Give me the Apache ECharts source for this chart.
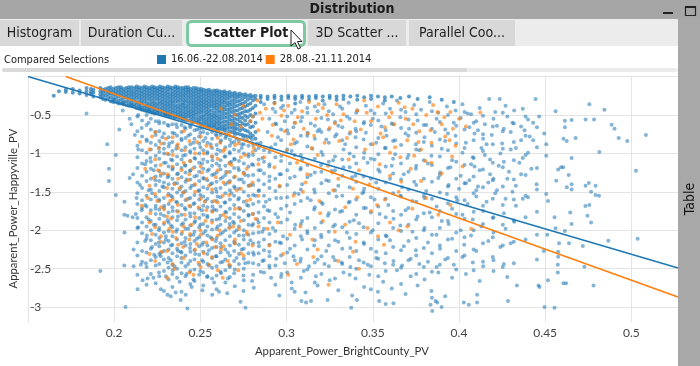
<!DOCTYPE html>
<html><head><meta charset="utf-8">
<script src="https://cdn.jsdelivr.net/npm/echarts@6/dist/echarts.min.js"></script>
<style>html,body{margin:0;padding:0;background:#fff}#c{width:700px;height:366px}</style>
</head><body><div id="c"></div>
<script>
const seriesNames = ['16.06.-22.08.2014', '28.08.-21.11.2014'];
const xAxisName = 'Apparent_Power_BrightCounty_PV';
const yAxisName = 'Apparent_Power_Happyville_PV';
const panelTitle = 'Distribution';
const sideTitle = 'Table';
const selLabel = 'Compared Selections';
const tabLabels = ['Histogram', 'Duration Cu...', 'Scatter Plot', '3D Scatter ...', 'Parallel Coo...'];
const xMin = 0.15, xMax = 0.527, xStep = 0.05, yMin = -3.2, yMax = 0;

// regression lines (end points)
const blueFit = [[0.15, 0.0], [0.527, -2.492]];
const orangeFit = [[0.172, 0.0], [0.527, -2.87]];

// dense upper wedge of blue points: [x, y1, y2, ...]
const blueWedgeCols = [
[0.165,-0.25],[0.168,-0.19],[0.172,-0.17,-0.2],[0.176,-0.16,-0.21],[0.18,-0.18,-0.22],
[0.184,-0.15,-0.19,-0.24],[0.188,-0.17,-0.21,-0.26],[0.192,-0.15,-0.19,-0.23,-0.27],
[0.195,-0.16,-0.2,-0.25,-0.3],[0.198,-0.14,-0.18,-0.22,-0.27,-0.32],[0.201,-0.15,-0.19,-0.23,-0.28,-0.33],
[0.204,-0.14,-0.17,-0.21,-0.25,-0.3,-0.35],[0.207,-0.15,-0.19,-0.23,-0.27,-0.32,-0.37],
[0.21,-0.14,-0.18,-0.22,-0.26,-0.3,-0.34,-0.38],[0.213,-0.13,-0.16,-0.2,-0.24,-0.28,-0.33,-0.37,-0.41],
[0.216,-0.15,-0.19,-0.23,-0.27,-0.31,-0.35,-0.4,-0.43],[0.219,-0.14,-0.17,-0.21,-0.25,-0.29,-0.34,-0.38,-0.42,-0.45],
[0.222,-0.13,-0.16,-0.2,-0.24,-0.28,-0.32,-0.36,-0.4,-0.44,-0.47],[0.225,-0.15,-0.18,-0.22,-0.26,-0.3,-0.35,-0.39,-0.43,-0.47],
[0.228,-0.14,-0.17,-0.21,-0.25,-0.29,-0.33,-0.37,-0.41,-0.45,-0.49],[0.231,-0.13,-0.16,-0.2,-0.24,-0.28,-0.32,-0.36,-0.4,-0.44,-0.48,-0.51],
[0.234,-0.15,-0.19,-0.23,-0.27,-0.31,-0.35,-0.39,-0.43,-0.47,-0.52],[0.237,-0.14,-0.17,-0.21,-0.25,-0.29,-0.33,-0.38,-0.42,-0.46,-0.5,-0.54],
[0.24,-0.15,-0.18,-0.22,-0.26,-0.3,-0.34,-0.37,-0.41,-0.45,-0.49,-0.53,-0.56],[0.243,-0.14,-0.17,-0.2,-0.24,-0.28,-0.32,-0.36,-0.4,-0.44,-0.48,-0.52,-0.57],
[0.246,-0.15,-0.19,-0.23,-0.27,-0.31,-0.35,-0.39,-0.43,-0.47,-0.51,-0.55,-0.59],[0.249,-0.16,-0.2,-0.24,-0.28,-0.32,-0.36,-0.4,-0.44,-0.48,-0.53,-0.57,-0.6],
[0.252,-0.17,-0.21,-0.25,-0.29,-0.33,-0.37,-0.41,-0.45,-0.5,-0.54,-0.58,-0.62],[0.255,-0.17,-0.2,-0.24,-0.28,-0.32,-0.36,-0.4,-0.44,-0.48,-0.52,-0.56,-0.6,-0.64],
[0.258,-0.18,-0.22,-0.26,-0.3,-0.34,-0.38,-0.42,-0.47,-0.51,-0.55,-0.59,-0.63,-0.66],[0.261,-0.19,-0.23,-0.27,-0.31,-0.35,-0.39,-0.43,-0.47,-0.52,-0.56,-0.6,-0.64,-0.68],
[0.264,-0.19,-0.22,-0.26,-0.3,-0.34,-0.39,-0.43,-0.48,-0.53,-0.58,-0.63,-0.67,-0.7],[0.267,-0.2,-0.24,-0.28,-0.33,-0.37,-0.42,-0.46,-0.51,-0.56,-0.61,-0.66,-0.71],
[0.27,-0.21,-0.25,-0.29,-0.34,-0.39,-0.44,-0.49,-0.55,-0.6,-0.65,-0.69,-0.73],[0.273,-0.22,-0.26,-0.31,-0.36,-0.42,-0.48,-0.53,-0.58,-0.64,-0.7,-0.75],
[0.276,-0.23,-0.27,-0.33,-0.39,-0.45,-0.51,-0.57,-0.63,-0.7,-0.77],[0.279,-0.24,-0.28,-0.35,-0.43,-0.5,-0.58,-0.66,-0.74,-0.79],
[0.282,-0.25,-0.29,-0.38,-0.48,-0.6,-0.72,-0.81],
// top band continuing right
[0.285,-0.25,-0.28,-0.33],[0.289,-0.26,-0.29],[0.293,-0.25,-0.28,-0.34],[0.297,-0.26,-0.3],[0.301,-0.25,-0.28],
[0.305,-0.26,-0.29,-0.35],[0.309,-0.25,-0.28],[0.313,-0.26,-0.3],[0.317,-0.25,-0.28],[0.321,-0.26,-0.31],
[0.325,-0.25,-0.28],[0.329,-0.26,-0.3],[0.333,-0.25,-0.29],[0.337,-0.26],[0.341,-0.25,-0.3],[0.345,-0.27],
[0.349,-0.25,-0.29],[0.353,-0.26],[0.357,-0.27,-0.31],[0.361,-0.26],[0.366,-0.28],[0.371,-0.26],[0.376,-0.29],
[0.383,-0.27],[0.39,-0.3],[0.397,-0.33],
// second pass through the wedge
[0.1865,-0.16,-0.2,-0.23],[0.1935,-0.17,-0.21,-0.25,-0.29],[0.1965,-0.15,-0.19,-0.23,-0.28],
[0.1995,-0.16,-0.2,-0.24,-0.29,-0.33],[0.2025,-0.14,-0.18,-0.22,-0.26,-0.31,-0.35],[0.2055,-0.16,-0.2,-0.24,-0.28,-0.33,-0.36],
[0.2085,-0.14,-0.17,-0.21,-0.25,-0.29,-0.34,-0.38],[0.2115,-0.15,-0.19,-0.23,-0.27,-0.31,-0.36,-0.39],
[0.2145,-0.14,-0.17,-0.21,-0.25,-0.29,-0.34,-0.38,-0.42],[0.2175,-0.13,-0.16,-0.2,-0.24,-0.28,-0.32,-0.37,-0.41,-0.44],
[0.2205,-0.15,-0.18,-0.22,-0.26,-0.3,-0.35,-0.39,-0.43,-0.46],[0.2235,-0.14,-0.17,-0.21,-0.25,-0.29,-0.34,-0.38,-0.42,-0.45,-0.48],
[0.2265,-0.13,-0.16,-0.2,-0.24,-0.28,-0.32,-0.36,-0.41,-0.45,-0.49],[0.2295,-0.15,-0.19,-0.23,-0.27,-0.31,-0.35,-0.39,-0.43,-0.47,-0.5],
[0.2325,-0.14,-0.17,-0.22,-0.26,-0.3,-0.34,-0.38,-0.42,-0.46,-0.5,-0.52],[0.2355,-0.13,-0.16,-0.2,-0.24,-0.28,-0.32,-0.37,-0.41,-0.45,-0.49,-0.53],
[0.2385,-0.15,-0.19,-0.23,-0.27,-0.31,-0.36,-0.4,-0.44,-0.48,-0.52,-0.55],[0.2415,-0.14,-0.17,-0.21,-0.25,-0.29,-0.33,-0.38,-0.42,-0.46,-0.5,-0.54,-0.57],
[0.2445,-0.16,-0.2,-0.24,-0.28,-0.32,-0.36,-0.41,-0.45,-0.49,-0.53,-0.57],[0.2475,-0.15,-0.18,-0.22,-0.26,-0.3,-0.34,-0.38,-0.42,-0.46,-0.5,-0.55,-0.59],
[0.2505,-0.16,-0.19,-0.23,-0.27,-0.31,-0.35,-0.39,-0.43,-0.47,-0.52,-0.56,-0.61],[0.2535,-0.18,-0.22,-0.26,-0.3,-0.34,-0.38,-0.42,-0.46,-0.5,-0.55,-0.59,-0.63],
[0.2565,-0.19,-0.23,-0.27,-0.31,-0.35,-0.39,-0.44,-0.49,-0.53,-0.57,-0.61,-0.65],[0.2595,-0.18,-0.21,-0.25,-0.29,-0.33,-0.37,-0.41,-0.45,-0.5,-0.54,-0.58,-0.62,-0.67],
[0.2625,-0.2,-0.24,-0.28,-0.32,-0.36,-0.41,-0.45,-0.5,-0.55,-0.6,-0.65,-0.69],[0.2655,-0.21,-0.25,-0.29,-0.34,-0.38,-0.43,-0.48,-0.53,-0.58,-0.63,-0.68],
[0.2685,-0.22,-0.26,-0.31,-0.36,-0.41,-0.46,-0.52,-0.57,-0.62,-0.67,-0.72],[0.2715,-0.23,-0.27,-0.32,-0.38,-0.44,-0.5,-0.56,-0.62,-0.68,-0.74],
[0.2745,-0.24,-0.29,-0.35,-0.41,-0.47,-0.54,-0.61,-0.68,-0.76],[0.2775,-0.25,-0.3,-0.37,-0.45,-0.53,-0.62,-0.71,-0.78],
[0.2805,-0.26,-0.31,-0.41,-0.52,-0.65,-0.77]
];

// dense blue core below the wedge: [x, y1, y2, ...]
const blueCoreCols = [
[0.2135,-0.52,-0.71,-0.9,-1.05,-1.19,-1.38,-1.52,-1.66,-1.84,-1.97,-2.16,-2.33,-2.58],
[0.2162,-0.57,-0.78,-0.96,-1.13,-1.29,-1.45,-1.61,-1.71,-1.9,-2.04,-2.27,-2.41],
[0.2188,-0.5,-0.63,-0.82,-0.99,-1.1,-1.24,-1.36,-1.55,-1.69,-1.83,-1.95,-2.11,-2.29,-2.48,-2.71],
[0.2213,-0.55,-0.69,-0.86,-0.95,-1.11,-1.2,-1.33,-1.47,-1.6,-1.74,-1.88,-2.0,-2.13,-2.24,-2.39,-2.57],
[0.2241,-0.58,-0.76,-0.89,-1.03,-1.16,-1.3,-1.41,-1.56,-1.68,-1.79,-1.93,-2.06,-2.18,-2.35,-2.46,-2.69],
[0.2262,-0.61,-0.71,-0.84,-0.98,-1.07,-1.23,-1.36,-1.49,-1.62,-1.73,-1.85,-1.97,-2.1,-2.21,-2.31,-2.44,-2.6],
[0.2289,-0.6,-0.74,-0.87,-0.94,-1.12,-1.26,-1.38,-1.44,-1.58,-1.71,-1.81,-1.92,-2.03,-2.16,-2.27,-2.38,-2.53,-2.79],
[0.2316,-0.64,-0.79,-0.91,-1.01,-1.17,-1.29,-1.4,-1.53,-1.66,-1.77,-1.9,-2.01,-2.14,-2.25,-2.36,-2.49,-2.64],
[0.2338,-0.62,-0.73,-0.85,-0.97,-1.09,-1.21,-1.33,-1.46,-1.57,-1.7,-1.83,-1.96,-2.08,-2.19,-2.3,-2.45,-2.57,-2.74],
[0.2365,-0.66,-0.77,-0.9,-1.04,-1.14,-1.27,-1.39,-1.51,-1.64,-1.75,-1.87,-1.99,-2.12,-2.24,-2.34,-2.5,-2.62],
[0.2391,-0.63,-0.72,-0.83,-0.96,-1.08,-1.19,-1.31,-1.43,-1.55,-1.67,-1.8,-1.93,-2.05,-2.17,-2.29,-2.42,-2.56,-2.8],
[0.2414,-0.68,-0.8,-0.92,-1.02,-1.16,-1.25,-1.37,-1.49,-1.61,-1.73,-1.86,-1.98,-2.1,-2.2,-2.33,-2.47,-2.6],
[0.2442,-0.66,-0.75,-0.88,-0.99,-1.1,-1.22,-1.34,-1.45,-1.58,-1.69,-1.82,-1.94,-2.07,-2.18,-2.28,-2.4,-2.53,-2.7],
[0.2466,-0.7,-0.81,-0.94,-1.06,-1.18,-1.3,-1.41,-1.54,-1.65,-1.78,-1.9,-2.02,-2.14,-2.26,-2.38,-2.51,-2.66],
[0.2493,-0.68,-0.78,-0.87,-1.0,-1.12,-1.24,-1.36,-1.48,-1.6,-1.72,-1.84,-1.96,-2.09,-2.21,-2.32,-2.45,-2.58],
[0.2517,-0.72,-0.84,-0.96,-1.08,-1.2,-1.32,-1.44,-1.56,-1.68,-1.8,-1.92,-2.04,-2.16,-2.28,-2.41,-2.55,-2.72],
[0.2541,-0.74,-0.86,-0.98,-1.11,-1.23,-1.35,-1.46,-1.59,-1.7,-1.83,-1.95,-2.07,-2.2,-2.31,-2.44,-2.6],
[0.2568,-0.72,-0.81,-0.93,-1.04,-1.16,-1.28,-1.39,-1.51,-1.63,-1.75,-1.87,-1.99,-2.11,-2.23,-2.36,-2.49,-2.63],
[0.2594,-0.77,-0.89,-1.01,-1.13,-1.25,-1.37,-1.5,-1.62,-1.74,-1.86,-1.98,-2.1,-2.22,-2.34,-2.47,-2.59,-2.77],
[0.2617,-0.76,-0.85,-0.97,-1.09,-1.21,-1.33,-1.45,-1.57,-1.69,-1.81,-1.93,-2.05,-2.17,-2.29,-2.42,-2.54],
[0.2645,-0.8,-0.92,-1.04,-1.16,-1.28,-1.4,-1.52,-1.64,-1.76,-1.88,-2.0,-2.13,-2.25,-2.38,-2.52,-2.68],
[0.2671,-0.82,-0.9,-1.0,-1.12,-1.24,-1.36,-1.48,-1.6,-1.72,-1.84,-1.96,-2.08,-2.2,-2.33,-2.46,-2.61],
[0.2696,-0.85,-0.95,-1.07,-1.19,-1.31,-1.43,-1.55,-1.67,-1.79,-1.91,-2.03,-2.15,-2.27,-2.4,-2.56],
[0.2724,-0.84,-0.97,-1.1,-1.22,-1.34,-1.46,-1.58,-1.71,-1.83,-1.95,-2.07,-2.19,-2.31,-2.44],
[0.2752,-0.88,-1.0,-1.13,-1.25,-1.38,-1.5,-1.63,-1.75,-1.87,-2.0,-2.12,-2.24,-2.37,-2.5,-2.65],
[0.2779,-0.9,-1.04,-1.17,-1.29,-1.42,-1.55,-1.68,-1.81,-1.93,-2.06,-2.18,-2.3,-2.42],
[0.2806,-0.89,-1.02,-1.15,-1.28,-1.41,-1.54,-1.66,-1.79,-1.92,-2.04,-2.17,-2.29,-2.43,-2.58],
[0.2838,-0.93,-1.08,-1.22,-1.35,-1.49,-1.63,-1.77,-1.9,-2.03,-2.16,-2.3,-2.45],
[0.2869,-0.96,-1.11,-1.26,-1.4,-1.55,-1.69,-1.84,-1.98,-2.12,-2.26,-2.39,-2.55],
[0.2901,-0.98,-1.14,-1.3,-1.45,-1.6,-1.75,-1.9,-2.05,-2.19,-2.34,-2.49]
];

// blue points in the middle part of the cloud: [x, y1, y2, ...]
const blueMidCols = [
[0.2935,-0.46,-0.61,-0.88,-1.05,-1.33,-1.49,-1.79,-2.01,-2.15,-2.46,-2.71],
[0.2968,-0.41,-0.69,-0.83,-1.1,-1.27,-1.58,-1.72,-1.9,-2.17,-2.33,-2.61],
[0.3004,-0.52,-0.7,-0.95,-1.22,-1.41,-1.57,-1.86,-2.11,-2.29,-2.55],
[0.3047,-0.43,-0.6,-0.87,-1.02,-1.3,-1.52,-1.66,-1.98,-2.2,-2.39,-2.8],
[0.3083,-0.58,-0.77,-1.02,-1.19,-1.47,-1.62,-1.92,-2.08,-2.37,-2.62],
[0.3121,-0.47,-0.73,-0.91,-1.15,-1.31,-1.58,-1.84,-2.04,-2.25,-2.51],
[0.3164,-0.39,-0.64,-0.81,-1.07,-1.25,-1.51,-1.7,-1.97,-2.13,-2.42,-2.68],
[0.3202,-0.54,-0.72,-0.98,-1.24,-1.39,-1.64,-1.9,-2.09,-2.34,-2.57],
[0.3245,-0.45,-0.69,-0.86,-1.11,-1.36,-1.52,-1.78,-2.02,-2.2,-2.47],
[0.3281,-0.59,-0.78,-1.04,-1.22,-1.48,-1.73,-1.93,-2.13,-2.39,-2.63],
[0.3323,-0.42,-0.66,-0.83,-1.08,-1.29,-1.55,-1.75,-1.96,-2.24,-2.44],
[0.3366,-0.55,-0.74,-1.0,-1.18,-1.44,-1.63,-1.89,-2.1,-2.35,-2.58],
[0.3404,-0.47,-0.71,-0.92,-1.13,-1.37,-1.6,-1.8,-2.05,-2.27,-2.5],
[0.3447,-0.61,-0.82,-1.06,-1.3,-1.5,-1.71,-1.96,-2.16,-2.42],
[0.3489,-0.44,-0.63,-0.88,-1.07,-1.33,-1.57,-1.77,-2.03,-2.24,-2.47,-2.77],
[0.3532,-0.57,-0.8,-1.01,-1.21,-1.46,-1.69,-1.91,-2.12,-2.37,-2.6],
[0.3575,-0.48,-0.7,-0.93,-1.17,-1.38,-1.59,-1.83,-2.07,-2.3,-2.53],
[0.3618,-0.62,-0.84,-1.07,-1.26,-1.52,-1.75,-1.97,-2.22,-2.45],
[0.3664,-0.43,-0.67,-0.89,-1.13,-1.34,-1.56,-1.8,-2.01,-2.26,-2.49,-2.7],
[0.3707,-0.56,-0.77,-1.02,-1.24,-1.47,-1.71,-1.93,-2.14,-2.39],
[0.3752,-0.49,-0.73,-0.95,-1.16,-1.41,-1.63,-1.86,-2.1,-2.33,-2.57],
[0.3796,-0.63,-0.85,-1.09,-1.33,-1.55,-1.78,-2.0,-2.23,-2.48],
[0.3843,-0.45,-0.68,-0.9,-1.15,-1.37,-1.59,-1.83,-2.06,-2.3,-2.54,-2.88],
[0.3889,-0.59,-0.82,-1.04,-1.28,-1.51,-1.75,-1.97,-2.2,-2.45],
[0.3936,-0.5,-0.74,-0.96,-1.19,-1.43,-1.65,-1.88,-2.12,-2.36],
[0.3984,-0.64,-0.87,-1.11,-1.33,-1.57,-1.79,-2.03,-2.27,-2.51],
[0.4032,-0.46,-0.69,-0.93,-1.15,-1.39,-1.61,-1.85,-2.09,-2.33],
[0.4085,-0.6,-0.83,-1.06,-1.3,-1.52,-1.76,-2.0,-2.25,-2.52],
[0.4139,-0.51,-0.75,-0.97,-1.21,-1.44,-1.68,-1.92,-2.17,-2.41],
[0.4196,-0.65,-0.88,-1.12,-1.35,-1.59,-1.84,-2.09,-2.35],
[0.4254,-0.47,-0.71,-0.94,-1.18,-1.43,-1.67,-1.93,-2.2,-2.48],
[0.4318,-0.61,-0.85,-1.09,-1.34,-1.6,-1.87,-2.15,-2.43],
[0.4386,-0.52,-0.77,-1.02,-1.28,-1.55,-1.83,-2.12],
[0.4452,-0.66,-0.92,-1.19,-1.47,-1.76,-2.06,-2.38]
];

// row of points along the lower edge of the wedge
const blueEdge = [[0.2,-0.3],[0.205,-0.34],[0.21,-0.37],[0.215,-0.4],[0.22,-0.43],[0.225,-0.47],[0.23,-0.5],[0.235,-0.53],
[0.24,-0.56],[0.245,-0.6],[0.25,-0.63],[0.255,-0.66],[0.26,-0.69],[0.265,-0.73],[0.27,-0.76],[0.275,-0.79],[0.28,-0.82],[0.285,-0.86]];

// scattered blue points
const blueCloud = [
[0.287,-0.36],[0.292,-0.42],[0.298,-0.38],[0.303,-0.47],[0.308,-0.33],[0.312,-0.41],[0.318,-0.45],[0.322,-0.36],[0.327,-0.49],[0.331,-0.39],
[0.336,-0.34],[0.341,-0.44],[0.346,-0.38],[0.351,-0.48],[0.356,-0.35],[0.36,-0.42],[0.364,-0.31],[0.369,-0.46],[0.374,-0.37],[0.378,-0.43],
[0.383,-0.33],[0.388,-0.47],[0.393,-0.39],[0.398,-0.44],[0.402,-0.36],[0.407,-0.49],[0.412,-0.41],[0.4175,-0.29],[0.421,-0.46],[0.4236,-0.29],
[0.427,-0.38],[0.432,-0.44],[0.437,-0.42],[0.4444,-0.29],[0.4465,-0.52],[0.456,-0.45],[0.4756,-0.36],[0.4843,-0.43],
[0.184,-0.48],[0.205,-0.44],[0.214,-0.5],[0.209,-0.55],
[0.236,-0.62],[0.241,-0.66],[0.244,-0.64],[0.248,-0.69],[0.251,-0.67],[0.226,-0.58],[0.231,-0.63],[0.22,-0.6],[0.216,-0.67],[0.21,-0.62],[0.203,-0.69],
[0.29,-0.55],[0.294,-0.62],[0.299,-0.58],[0.304,-0.66],[0.309,-0.53],[0.314,-0.61],[0.319,-0.69],[0.324,-0.56],[0.33,-0.64],[0.335,-0.52],
[0.34,-0.68],[0.345,-0.59],[0.35,-0.55],[0.355,-0.65],[0.361,-0.61],[0.366,-0.53],[0.371,-0.68],[0.376,-0.57],[0.381,-0.63],[0.387,-0.55],
[0.392,-0.69],[0.397,-0.6],[0.401,-0.54],[0.406,-0.66],[0.41,-0.58],[0.415,-0.62],[0.42,-0.55],[0.426,-0.68],[0.431,-0.6],[0.436,-0.65],
[0.44,-0.56],[0.4614,-0.574],[0.4653,-0.565],[0.4734,-0.56],[0.4783,-0.56],[0.4885,-0.626],[0.4614,-0.66],[0.4902,-0.68],
[0.196,-0.88],[0.212,-0.76],[0.219,-0.84],[0.224,-0.72],[0.228,-0.79],[0.232,-0.87],[0.235,-0.74],[0.239,-0.81],[0.243,-0.77],[0.246,-0.86],
[0.25,-0.73],[0.253,-0.8],[0.256,-0.88],[0.259,-0.75],[0.262,-0.83],[0.265,-0.78],[0.268,-0.86],[0.271,-0.81],[0.274,-0.88],[0.283,-0.87],
[0.289,-0.72],[0.295,-0.79],[0.301,-0.74],[0.306,-0.85],[0.312,-0.77],[0.318,-0.71],[0.323,-0.82],[0.329,-0.75],[0.334,-0.88],[0.34,-0.79],
[0.346,-0.73],[0.352,-0.86],[0.358,-0.77],[0.363,-0.83],[0.369,-0.74],[0.375,-0.88],[0.38,-0.79],[0.386,-0.72],[0.392,-0.84],[0.398,-0.77],
[0.404,-0.86],[0.409,-0.74],[0.414,-0.81],[0.419,-0.76],[0.425,-0.87],[0.43,-0.72],[0.436,-0.83],[0.441,-0.78],[0.4494,-0.74],[0.4506,-0.88],
[0.4606,-0.81],[0.4625,-0.84],[0.4676,-0.8],[0.4926,-0.8],[0.4976,-0.84],[0.5084,-0.76],
[0.201,-1.02],[0.214,-0.95],[0.221,-1.06],[0.226,-0.93],[0.229,-1.0],[0.233,-1.08],[0.236,-0.94],[0.24,-1.03],[0.244,-0.97],[0.247,-1.07],
[0.25,-0.92],[0.254,-1.0],[0.257,-1.09],[0.26,-0.95],[0.264,-1.04],[0.267,-0.98],[0.27,-1.08],[0.274,-0.93],[0.278,-1.01],[0.282,-0.96],
[0.286,-1.06],[0.291,-0.92],[0.297,-1.03],[0.303,-0.97],[0.309,-1.08],[0.315,-0.94],[0.321,-1.02],[0.327,-1.09],[0.333,-0.95],[0.339,-1.04],
[0.345,-0.99],[0.351,-1.08],[0.357,-0.93],[0.363,-1.01],[0.37,-1.06],[0.377,-0.96],[0.384,-1.03],[0.39,-0.94],[0.396,-1.09],[0.402,-0.99],
[0.408,-1.05],[0.413,-0.93],[0.418,-1.08],[0.424,-1.0],[0.43,-0.95],[0.437,-1.06],[0.4506,-1.03],[0.4653,-1.06],[0.4814,-0.98],
[0.197,-1.2],[0.211,-1.27],[0.218,-1.14],[0.223,-1.22],[0.227,-1.29],[0.23,-1.12],[0.234,-1.19],[0.237,-1.26],[0.241,-1.15],[0.244,-1.23],
[0.248,-1.29],[0.251,-1.13],[0.255,-1.21],[0.258,-1.27],[0.261,-1.16],[0.265,-1.24],[0.268,-1.11],[0.272,-1.19],[0.276,-1.28],[0.28,-1.14],
[0.285,-1.22],[0.29,-1.17],[0.296,-1.27],[0.302,-1.13],[0.308,-1.21],[0.314,-1.28],[0.32,-1.15],[0.326,-1.23],[0.333,-1.18],[0.34,-1.29],
[0.347,-1.12],[0.354,-1.24],[0.361,-1.16],[0.368,-1.27],[0.375,-1.2],[0.382,-1.13],[0.389,-1.25],[0.395,-1.18],[0.401,-1.29],[0.407,-1.14],
[0.412,-1.22],[0.418,-1.27],[0.423,-1.16],[0.429,-1.24],[0.435,-1.12],[0.442,-1.2],[0.4592,-1.18],[0.4604,-1.18],[0.4575,-1.21],[0.5026,-1.225],[0.4636,-1.28],
[0.197,-1.36],[0.209,-1.32],[0.215,-1.41],[0.22,-1.48],[0.224,-1.35],[0.228,-1.43],[0.231,-1.31],[0.235,-1.39],[0.238,-1.47],[0.242,-1.34],
[0.245,-1.42],[0.249,-1.49],[0.252,-1.33],[0.256,-1.4],[0.259,-1.46],[0.263,-1.31],[0.266,-1.38],[0.27,-1.45],[0.274,-1.34],[0.279,-1.41],
[0.284,-1.48],[0.29,-1.36],[0.296,-1.43],[0.302,-1.32],[0.309,-1.4],[0.316,-1.47],[0.323,-1.35],[0.33,-1.42],[0.338,-1.31],[0.345,-1.46],
[0.352,-1.38],[0.36,-1.33],[0.367,-1.44],[0.374,-1.37],[0.381,-1.49],[0.388,-1.32],[0.394,-1.41],[0.4,-1.46],[0.406,-1.35],[0.411,-1.43],
[0.417,-1.38],[0.422,-1.48],[0.428,-1.33],[0.433,-1.42],[0.4564,-1.355],[0.4653,-1.4],[0.4734,-1.42],[0.4753,-1.385],[0.4792,-1.42],[0.4625,-1.44],[0.4653,-1.47],
[0.201,-1.54],[0.206,-1.63],[0.213,-1.58],[0.218,-1.67],[0.222,-1.52],[0.226,-1.6],[0.229,-1.68],[0.233,-1.55],[0.236,-1.63],[0.24,-1.51],
[0.243,-1.59],[0.246,-1.66],[0.25,-1.54],[0.253,-1.62],[0.257,-1.69],[0.26,-1.56],[0.264,-1.64],[0.268,-1.52],[0.272,-1.6],[0.277,-1.67],
[0.282,-1.55],[0.288,-1.63],[0.294,-1.58],[0.3,-1.68],[0.307,-1.53],[0.314,-1.61],[0.321,-1.66],[0.329,-1.56],[0.336,-1.64],[0.344,-1.52],
[0.351,-1.6],[0.359,-1.67],[0.366,-1.55],[0.373,-1.62],[0.38,-1.58],[0.387,-1.69],[0.393,-1.53],[0.399,-1.61],[0.405,-1.66],[0.41,-1.56],
[0.416,-1.63],[0.421,-1.52],[0.427,-1.59],[0.433,-1.68],[0.44,-1.57],[0.4766,-1.5],[0.4792,-1.54],[0.4812,-1.55],[0.4506,-1.53],[0.4516,-1.62],[0.4733,-1.685],[0.4756,-1.67],
[0.2059,-1.8],[0.2078,-1.81],[0.2107,-1.83],[0.2126,-1.79],[0.216,-1.74],[0.22,-1.86],[0.224,-1.72],[0.227,-1.79],[0.231,-1.87],[0.234,-1.75],
[0.237,-1.82],[0.241,-1.71],[0.244,-1.78],[0.247,-1.88],[0.251,-1.74],[0.254,-1.81],[0.258,-1.73],[0.261,-1.85],[0.265,-1.77],[0.269,-1.89],
[0.273,-1.72],[0.278,-1.8],[0.283,-1.86],[0.289,-1.74],[0.295,-1.83],[0.302,-1.77],[0.309,-1.88],[0.316,-1.73],[0.324,-1.81],[0.331,-1.76],
[0.339,-1.87],[0.346,-1.71],[0.354,-1.79],[0.362,-1.85],[0.369,-1.74],[0.376,-1.82],[0.383,-1.77],[0.39,-1.88],[0.396,-1.72],[0.402,-1.8],
[0.408,-1.86],[0.414,-1.75],[0.42,-1.83],[0.426,-1.78],[0.432,-1.89],[0.4554,-1.83],[0.4645,-1.77],[0.4745,-1.81],[0.4766,-1.9],
[0.206,-2.03],[0.214,-1.96],[0.219,-2.07],[0.223,-1.93],[0.226,-2.0],[0.23,-2.08],[0.233,-1.94],[0.236,-2.02],[0.24,-1.91],[0.243,-1.98],
[0.246,-2.06],[0.25,-1.93],[0.253,-2.01],[0.256,-2.09],[0.26,-1.95],[0.263,-2.03],[0.267,-1.92],[0.271,-2.0],[0.275,-2.07],[0.28,-1.94],
[0.286,-2.02],[0.292,-1.97],[0.298,-2.08],[0.305,-1.93],[0.312,-2.01],[0.32,-2.06],[0.327,-1.95],[0.335,-2.03],[0.342,-1.91],[0.35,-2.0],
[0.358,-2.08],[0.366,-1.94],[0.373,-2.02],[0.38,-1.97],[0.387,-2.06],[0.394,-1.92],[0.401,-2.0],[0.407,-2.07],[0.413,-1.95],[0.42,-2.03],
[0.427,-1.98],[0.4653,-1.92],[0.456,-1.975],[0.4614,-2.01],[0.4512,-2.06],
[0.2113,-2.25],[0.218,-2.14],[0.222,-2.22],[0.2232,-2.32],[0.226,-2.16],[0.2271,-2.29],[0.23,-2.12],[0.233,-2.2],[0.237,-2.27],[0.2386,-2.28],
[0.241,-2.15],[0.244,-2.23],[0.248,-2.11],[0.251,-2.19],[0.255,-2.26],[0.259,-2.14],[0.262,-2.22],[0.266,-2.29],[0.27,-2.17],[0.274,-2.25],
[0.279,-2.13],[0.284,-2.21],[0.29,-2.28],[0.296,-2.16],[0.302,-2.24],[0.309,-2.12],[0.316,-2.2],[0.323,-2.27],[0.33,-2.15],[0.337,-2.23],
[0.345,-2.18],[0.352,-2.28],[0.36,-2.13],[0.368,-2.21],[0.375,-2.26],[0.382,-2.16],[0.389,-2.24],[0.396,-2.11],[0.403,-2.19],[0.41,-2.27],
[0.417,-2.14],[0.424,-2.22],[0.43,-2.17],[0.458,-2.17],[0.4638,-2.17],[0.4718,-2.205],[0.4866,-2.137],[0.5036,-2.11],[0.4492,-2.27],[0.4575,-2.28],
[0.2155,-2.45],[0.2184,-2.43],[0.2059,-2.46],[0.2113,-2.47],[0.2329,-2.39],[0.227,-2.34],[0.231,-2.42],[0.235,-2.47],[0.239,-2.36],[0.243,-2.44],
[0.247,-2.31],[0.251,-2.39],[0.255,-2.46],[0.259,-2.34],[0.263,-2.41],[0.267,-2.48],[0.271,-2.36],[0.276,-2.43],[0.281,-2.32],[0.286,-2.4],
[0.29,-2.46],[0.294,-2.37],[0.299,-2.43],[0.304,-2.34],[0.308,-2.41],[0.313,-2.47],[0.318,-2.38],[0.322,-2.44],[0.327,-2.35],[0.332,-2.42],
[0.337,-2.48],[0.342,-2.39],[0.347,-2.45],[0.352,-2.36],[0.357,-2.43],[0.362,-2.4],[0.367,-2.46],[0.372,-2.37],[0.377,-2.44],[0.382,-2.41],
[0.387,-2.48],[0.392,-2.38],[0.397,-2.45],[0.402,-2.35],[0.408,-2.42],[0.414,-2.47],[0.42,-2.39],[0.426,-2.44],[0.4575,-2.345],[0.4573,-2.45],[0.4727,-2.475],
[0.192,-2.53],[0.2165,-2.65],[0.2194,-2.63],[0.2228,-2.62],[0.226,-2.55],[0.23,-2.6],[0.234,-2.52],[0.238,-2.67],[0.242,-2.57],[0.246,-2.64],
[0.25,-2.53],[0.254,-2.61],[0.258,-2.68],[0.262,-2.56],[0.266,-2.63],[0.27,-2.51],[0.275,-2.59],[0.28,-2.66],[0.285,-2.54],[0.291,-2.62],
[0.297,-2.57],[0.303,-2.68],[0.31,-2.53],[0.317,-2.6],[0.325,-2.65],[0.333,-2.55],[0.34,-2.63],[0.348,-2.58],[0.356,-2.67],[0.364,-2.52],
[0.372,-2.6],[0.38,-2.64],[0.388,-2.55],[0.396,-2.62],[0.404,-2.57],[0.412,-2.66],[0.42,-2.53],[0.428,-2.61],[0.4573,-2.55],[0.4516,-2.65],[0.4606,-2.69],[0.4621,-2.69],
[0.2136,-2.77],[0.2271,-2.77],[0.2309,-2.84],[0.2328,-2.86],[0.2357,-2.81],[0.2415,-2.84],[0.245,-2.74],[0.2512,-2.78],[0.2569,-2.84],[0.2608,-2.8],
[0.2656,-2.82],[0.27,-2.73],[0.275,-2.79],[0.281,-2.75],[0.2958,-2.85],[0.303,-2.76],[0.311,-2.81],[0.318,-2.72],[0.33,-2.78],[0.338,-2.85],
[0.345,-2.74],[0.353,-2.8],[0.361,-2.76],[0.369,-2.83],[0.376,-2.72],[0.384,-2.79],[0.392,-2.86],[0.4105,-2.84],[0.4336,-2.72],[0.4461,-2.72],[0.4467,-2.74],[0.478,-2.72],
[0.2066,-3.0],[0.2386,-2.91],[0.2425,-3.02],[0.2733,-2.93],[0.2762,-3.01],[0.3086,-2.92],[0.3113,-2.94],[0.3142,-2.92],[0.3238,-2.91],[0.3375,-3.01],
[0.3408,-2.91],[0.3537,-2.92],[0.3575,-2.96],[0.362,-2.95],[0.3835,-2.97],[0.3845,-3.05],[0.3864,-2.92],[0.3874,-2.94],[0.3899,-3.0],[0.4028,-2.94],
[0.4057,-2.97],[0.4105,-2.94],[0.4284,-2.92],[0.4496,-3.0],[0.4554,-3.01],
[0.405,-0.48],[0.411,-0.7],[0.416,-0.88],[0.422,-0.64],[0.428,-0.52],[0.433,-0.93],[0.438,-0.7],[0.443,-0.6],[0.409,-1.17],[0.415,-1.02],
[0.42,-1.33],[0.426,-1.11],[0.431,-1.5],[0.436,-1.27],[0.44,-0.99],[0.445,-1.4],[0.404,-1.39],[0.41,-1.48],[0.437,-1.59],[0.443,-0.83]
];

// orange points
const orangePts = [
[0.283,-0.31],[0.288,-0.42],[0.293,-0.35],[0.297,-0.51],[0.301,-0.38],[0.305,-0.6],[0.309,-0.45],[0.313,-0.33],[0.317,-0.55],[0.321,-0.41],
[0.325,-0.67],[0.329,-0.36],[0.333,-0.49],[0.337,-0.72],[0.341,-0.44],[0.345,-0.31],[0.349,-0.58],[0.353,-0.39],[0.357,-0.66],[0.361,-0.47],
[0.365,-0.34],[0.369,-0.55],[0.373,-0.42],[0.377,-0.71],[0.381,-0.5],[0.385,-0.37],[0.39,-0.62],[0.395,-0.46],[0.4,-0.55],[0.4124,-0.466],[0.404,-0.65],
[0.286,-0.55],[0.292,-0.63],[0.299,-0.71],[0.304,-0.82],[0.31,-0.68],[0.316,-0.77],[0.322,-0.86],[0.328,-0.61],[0.335,-0.8],[0.343,-0.69],
[0.35,-0.88],[0.356,-0.79],[0.363,-0.92],[0.37,-0.83],[0.378,-0.95],[0.384,-0.86],[0.392,-0.78],[0.398,-0.9],
[0.287,-1.05],[0.293,-1.18],[0.3,-0.97],[0.306,-1.12],[0.312,-1.27],[0.318,-1.02],[0.324,-1.16],[0.33,-1.33],[0.336,-1.08],[0.342,-1.22],
[0.348,-1.4],[0.354,-1.14],[0.36,-1.29],[0.366,-1.05],[0.372,-1.2],[0.378,-1.36],[0.384,-1.12],[0.39,-1.26],[0.396,-1.04],[0.402,-1.17],
[0.296,-1.42],[0.304,-1.55],[0.311,-1.38],[0.319,-1.62],[0.327,-1.48],[0.334,-1.7],[0.341,-1.57],[0.349,-1.75],[0.357,-1.6],[0.365,-1.5],
[0.373,-1.72],[0.381,-1.58],[0.388,-1.8],[0.395,-1.67],[0.36,-0.99],[0.374,-1.03],
[0.282,-1.85],[0.289,-1.98],[0.295,-1.9],[0.302,-2.06],[0.308,-1.95],[0.315,-2.12],[0.321,-1.88],[0.328,-2.02],[0.334,-1.93],[0.34,-2.15],
[0.347,-1.97],[0.353,-2.08],[0.36,-1.9],[0.29,-2.2],[0.298,-2.31],[0.306,-2.44],[0.318,-2.25],[0.33,-2.4],[0.342,-2.5],[0.301,-2.58],
[0.3244,-2.71],[0.365,-2.0],[0.37,-1.95],[0.407,-1.98],
[0.3025,-0.88],[0.3095,-1.5],[0.3145,-0.93],[0.3195,-1.78],[0.3265,-1.25],[0.3315,-0.57],[0.3385,-1.46],[0.3455,-0.95],[0.3525,-1.67],[0.3595,-0.53],
[0.3665,-1.37],[0.3735,-0.62],[0.3805,-1.1],[0.3875,-0.46],[0.3945,-0.83],[0.3155,-2.35],[0.3385,-2.28],[0.3565,-2.19],
[0.2845,-0.47],[0.2915,-0.77],[0.2985,-0.44],[0.3065,-0.53],[0.3125,-0.74],[0.3185,-0.36],[0.3235,-0.5],[0.3305,-0.84],[0.3395,-0.58],[0.3465,-0.47],
[0.3545,-0.74],[0.3625,-0.62],[0.3685,-0.4],[0.3765,-0.85],[0.3835,-0.7],[0.3915,-0.53],[0.3965,-0.68],
[0.262,-0.42],[0.27,-0.5],[0.275,-0.38],[0.279,-0.58],[0.268,-0.62],
[0.215,-0.85],[0.222,-0.78],[0.226,-0.93],[0.23,-0.81],[0.234,-1.02],[0.237,-0.88],[0.241,-0.96],[0.244,-1.1],[0.248,-0.85],[0.252,-1.0],
[0.256,-0.91],[0.26,-1.07],[0.264,-0.95],[0.268,-1.15],[0.272,-0.87],[0.276,-1.02],[0.281,-0.93],
[0.218,-1.2],[0.223,-1.32],[0.227,-1.15],[0.231,-1.27],[0.235,-1.4],[0.239,-1.22],[0.243,-1.35],[0.247,-1.5],[0.251,-1.25],[0.255,-1.42],
[0.259,-1.31],[0.263,-1.55],[0.267,-1.38],[0.271,-1.48],[0.275,-1.26],[0.279,-1.6],
[0.216,-1.68],[0.221,-1.78],[0.225,-1.62],[0.229,-1.73],[0.233,-1.85],[0.237,-1.67],[0.241,-1.8],[0.245,-1.93],[0.249,-1.7],[0.253,-1.88],
[0.257,-1.76],[0.261,-2.0],[0.265,-1.83],[0.269,-1.95],[0.273,-1.72],[0.277,-2.05],
[0.222,-2.05],[0.227,-2.15],[0.232,-1.98],[0.236,-2.1],[0.24,-2.22],[0.244,-2.05],[0.248,-2.18],[0.252,-2.3],[0.257,-2.12],[0.262,-2.25],
[0.266,-2.4],[0.27,-2.17],[0.275,-2.33],
[0.235,-2.5],[0.246,-2.58],[0.255,-2.45],[0.263,-2.62],[0.272,-2.52],[0.249,-2.42],
[0.231,-1.55],[0.238,-1.45],[0.229,-1.9],[0.242,-1.6],[0.25,-2.0],[0.258,-1.62],
[0.2255,-1.22],[0.2325,-1.62],[0.2395,-2.02],[0.2455,-1.2],[0.2525,-1.63],[0.2585,-2.22],[0.2655,-1.25],[0.2725,-1.98],[0.2785,-1.42],
[0.2195,-1.58],[0.2275,-2.28],[0.2615,-0.86],[0.2525,-0.66]
];
// more orange in the left dense block: [x, y1, y2, ...]
const orangeCols = [
[0.2205,-0.95,-1.42,-1.9,-2.31],[0.2238,-0.72,-1.08,-1.53,-1.96,-2.4],[0.2272,-0.87,-1.26,-1.7,-2.08],
[0.2307,-1.0,-1.45,-1.82,-2.27,-2.62],[0.2339,-0.79,-1.17,-1.6,-2.02,-2.44],[0.2371,-0.93,-1.33,-1.76,-2.19],
[0.2404,-0.71,-1.12,-1.51,-1.95,-2.36],[0.2436,-0.84,-1.27,-1.68,-2.12,-2.55],[0.2469,-1.0,-1.4,-1.83,-2.25],
[0.2502,-0.78,-1.17,-1.59,-2.06,-2.48],[0.2535,-0.9,-1.33,-1.74,-2.16],[0.2568,-1.04,-1.47,-1.9,-2.35],
[0.2601,-0.8,-1.22,-1.64,-2.07,-2.52],[0.2634,-0.97,-1.38,-1.8,-2.21],[0.2667,-0.74,-1.13,-1.54,-1.97,-2.45],
[0.2701,-0.89,-1.3,-1.72,-2.12],[0.2735,-0.65,-1.05,-1.46,-1.88,-2.3],[0.2769,-0.82,-1.2,-1.62,-2.02],
[0.2803,-0.52,-0.98,-1.38,-1.79,-2.2],[0.2837,-0.7,-1.14,-1.55,-1.95]
];

const BLUE = '#1f77b4', ORANGE = '#ff7f0e';
function fromCols(cols, out) { cols.forEach(c => { for (let i = 1; i < c.length; i++) out.push([c[0], c[i]]); }); return out; }
const blueWedgeData = fromCols(blueWedgeCols, []);
const blueData = fromCols(blueCoreCols.concat(blueMidCols), []);
blueEdge.concat(blueCloud).forEach(p => blueData.push(p));
const orangeData = fromCols(orangeCols, orangePts.slice());

const UI = "'DejaVu Sans Condensed','DejaVu Sans',sans-serif";
const PLOT = "Lato, 'Noto Sans', sans-serif";

const tabs = [[0,79],[81,182],[186,306],[308,406],[409,515]];
const graphics = [
  {type:'rect', shape:{x:0,y:0,width:700,height:19}, style:{fill:'#a6a6a6'}, silent:true},
  {type:'text', x:352, y:9, style:{text:panelTitle, font:"bold 14px "+UI, fill:'#1a1a1a', align:'center', verticalAlign:'middle'}},
  {type:'rect', shape:{x:663,y:12,width:10,height:2}, style:{fill:'#222'}},
  {type:'rect', shape:{x:685.5,y:6.5,width:10,height:9}, style:{fill:'none', stroke:'#222', lineWidth:1.2}},
  {type:'rect', shape:{x:685,y:6,width:11,height:2}, style:{fill:'#222'}},
  {type:'rect', shape:{x:0,y:19,width:678,height:27}, style:{fill:'#ececec'}},
  {type:'rect', shape:{x:678,y:19,width:22,height:347}, style:{fill:'#a8a8a8'}},
  {type:'text', x:690, y:199, rotation:Math.PI/2, style:{text:sideTitle, font:"14px "+UI, fill:'#111', align:'center', verticalAlign:'middle'}},
  {type:'text', x:4, y:60, style:{text:selLabel, font:"11px "+UI, fill:'#222', align:'left', verticalAlign:'middle'}},
  {type:'rect', shape:{x:2,y:68,width:676,height:4,r:2}, style:{fill:'#ececec'}},
  {type:'rect', shape:{x:2,y:68,width:465,height:4,r:2}, style:{fill:'#d9d9d9'}}
];
tabs.forEach((t, i) => {
  const sel = i === 2;
  graphics.push({type:'rect', shape:{x:t[0]+(sel?1.5:0), y:sel?21.5:20, width:t[1]-t[0]-(sel?3:0), height:sel?24:26, r:sel?4:0},
    style:{fill: sel ? '#ffffff' : '#d8d8d8', stroke: sel ? '#7fc9a2' : null, lineWidth: sel ? 3 : 0}});
  graphics.push({type:'text', x:(t[0]+t[1])/2, y:33, style:{text:tabLabels[i], font:(sel?'bold ':'')+"14px "+UI, fill:'#1e1e1e', align:'center', verticalAlign:'middle'}});
});
graphics.push({type:'polygon', shape:{points:[[291,30],[291,46],[295,42.5],[298,49],[300.5,48],[297.5,41.5],[302,41.5]]},
  style:{fill:'#fff', stroke:'#222', lineWidth:1}});

const chart = echarts.init(document.getElementById('c'), null, {renderer:'canvas'});
chart.setOption({
  animation: false,
  backgroundColor: '#fff',
  graphic: graphics,
  legend: {
    data: seriesNames, left: 152, top: 49, icon: 'rect', itemWidth: 9, itemHeight: 9, itemGap: 3,
    itemStyle: {opacity: 1},
    textStyle: {fontFamily: UI, fontSize: 11, color: '#222'}
  },
  grid: {left: 26, right: 22, top: 76.6, bottom: 43.6, containLabel: false},
  xAxis: {
    type: 'value', min: xMin, max: xMax, interval: xStep,
    name: xAxisName, nameLocation: 'middle', nameGap: 23,
    nameTextStyle: {fontFamily: PLOT, fontSize: 11.3, color: '#333', padding: [0, 22, 0, 0]},
    axisLine: {show: false}, axisTick: {show: false},
    axisLabel: {showMinLabel: false, showMaxLabel: false, margin: 5, fontFamily: PLOT, fontSize: 12, color: '#444'},
    splitLine: {show: true, showMaxLine: false, lineStyle: {color: '#e4e4e4', width: 1}}
  },
  yAxis: {
    type: 'value', min: yMin, max: yMax,
    name: yAxisName, nameLocation: 'middle', nameGap: 6, nameRotate: 90,
    nameTextStyle: {fontFamily: PLOT, fontSize: 11.3, color: '#333', padding: [0, 18, 0, 0]},
    axisLine: {show: false}, axisTick: {show: false},
    axisLabel: {inside: true, showMinLabel: false, showMaxLabel: false, margin: 2, fontFamily: PLOT, fontSize: 12, color: '#444'},
    splitLine: {show: true, showMinLine: false, lineStyle: {color: '#e4e4e4', width: 1}}
  },
  series: [
    {name: seriesNames[0], type: 'scatter', data: blueData, symbolSize: 4, itemStyle: {color: BLUE, opacity: 0.55}, z: 2},
    {name: seriesNames[0], type: 'scatter', data: blueWedgeData, symbolSize: 4, itemStyle: {color: BLUE, opacity: 0.72}, z: 2},
    {name: seriesNames[1], type: 'scatter', data: orangeData, symbolSize: 4, itemStyle: {color: ORANGE, opacity: 0.65}, z: 2},
    {name: 'fitBlue', type: 'line', data: blueFit, symbol: 'none', lineStyle: {color: BLUE, width: 1.6}, z: 4, clip: true},
    {name: 'fitOrange', type: 'line', data: orangeFit, symbol: 'none', lineStyle: {color: ORANGE, width: 1.6}, z: 4, clip: true}
  ]
});
</script></body></html>
